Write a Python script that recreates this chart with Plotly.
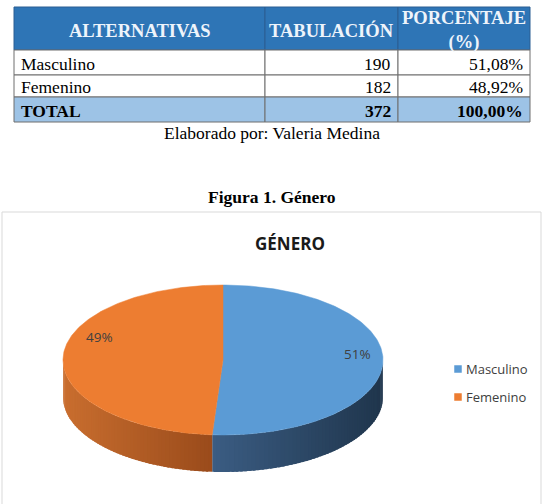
import numpy as np
import plotly.graph_objects as go

W, H = 543, 504

# ---------------- data ----------------
header_labels = ["ALTERNATIVAS", "TABULACIÓN", "PORCENTAJE<br>(%)"]
alternativas = ["Masculino", "Femenino", "TOTAL"]
tabulacion = [190, 182, 372]
porcentaje = ["51,08%", "48,92%", "100,00%"]

categories = ["Masculino", "Femenino"]
counts = [190, 182]
pie_colors = ["#5B9BD5", "#ED7D31"]
side_light = ["#3B5D83", "#C96E2F"]
side_dark = ["#1F354C", "#9A4B1B"]

chart_title = "GÉNERO"
caption_source = "Elaborado por: Valeria Medina"
caption_figure = "Figura 1. Género"

# ---------------- layout constants (px) ----------------
cx, cy, rx, ry, depth = 223, 360, 160, 75, 37
col_edges = [14, 265, 398, 530]
table_top, header_h = 7, 43
row_hs = [25, 22, 25]
SERIF = "Liberation Serif"
SANS = "Open Sans"


def hex2rgb(h):
    h = h.lstrip("#")
    return np.array([int(h[i:i + 2], 16) for i in (0, 2, 4)], dtype=float)


def mix(c1, c2, t):
    a, b = hex2rgb(c1), hex2rgb(c2)
    c = a + (b - a) * t
    return "rgb(%d,%d,%d)" % tuple(np.round(c).astype(int))


def ell(theta_deg, dy=0.0):
    t = np.radians(theta_deg)
    return cx + rx * np.sin(t), cy - ry * np.cos(t) + dy


fig = go.Figure()
shapes = []
annotations = []

# ---------------- table (cells built from the data lists) ----------------
columns = [alternativas, tabulacion, porcentaje]
col_align = ["left", "right", "right"]
n_rows = len(alternativas)
is_total = [a.upper() == "TOTAL" for a in alternativas]

# header
for c, lab in enumerate(header_labels):
    x0, x1 = col_edges[c], col_edges[c + 1]
    y0, y1 = table_top, table_top + header_h
    shapes.append(dict(type="rect", xref="x", yref="y", x0=x0, x1=x1, y0=y0, y1=y1,
                       fillcolor="#2E75B6", line=dict(color="#2A5F93", width=1), layer="above"))
    annotations.append(dict(x=(x0 + x1) / 2, y=(y0 + y1) / 2 + 2, xref="x", yref="y",
                            text="<b>%s</b>" % lab, showarrow=False, align="center",
                            font=dict(family=SERIF, size=18.5, color="#EEF4FB")))

# body
y_cursor = table_top + header_h
for r in range(n_rows):
    y0 = y_cursor
    y1 = y0 + row_hs[r]
    y_cursor = y1
    fill = "#9DC3E6" if is_total[r] else "#FFFFFF"
    for c in range(len(columns)):
        x0, x1 = col_edges[c], col_edges[c + 1]
        shapes.append(dict(type="rect", xref="x", yref="y", x0=x0, x1=x1, y0=y0, y1=y1,
                           fillcolor=fill, line=dict(color="#6F6F6F", width=1), layer="above"))
        val = str(columns[c][r])
        txt = "<b>%s</b>" % val if is_total[r] else val
        if col_align[c] == "left":
            xa, xanc = x0 + 5, "left"
        else:
            xa, xanc = x1 - 5, "right"
        annotations.append(dict(x=xa, y=(y0 + y1) / 2 + 1, xref="x", yref="y", text=txt,
                                showarrow=False, xanchor=xanc, yanchor="middle",
                                font=dict(family=SERIF, size=17.5, color="#000000")))

# ---------------- 3D pie ----------------
fr = np.array(counts, dtype=float) / sum(counts)
bounds = np.concatenate([[0.0], np.cumsum(fr)]) * 360.0

# visible side walls (front half: 90..270 deg) with a shading gradient
for i in range(len(counts)):
    a0, a1 = max(bounds[i], 90.0), min(bounds[i + 1], 270.0)
    if a1 <= a0:
        continue
    xl = min(ell(a0)[0], ell(a1)[0])
    xr = max(ell(a0)[0], ell(a1)[0])
    edges = np.linspace(a0, a1, 61)
    step = edges[1] - edges[0]
    for s0, s1 in zip(edges[:-1], edges[1:]):
        e1 = min(s1 + step * 0.6, a1)
        th = np.linspace(s0, e1, 4)
        xt, yt = ell(th)
        xb, yb = ell(th[::-1], depth)
        xs = np.concatenate([xt, xb, xt[:1]])
        ys = np.concatenate([yt, yb, yt[:1]])
        xm = ell((s0 + s1) / 2)[0]
        t = (xm - xl) / (xr - xl) if xr > xl else 0
        col = mix(side_light[i], side_dark[i], t)
        fig.add_trace(go.Scatter(
            x=xs, y=ys, mode="lines", fill="toself", fillcolor=col,
            line=dict(width=0), hoverinfo="skip", showlegend=False,
        ))

# top faces
for i in range(len(counts)):
    th = np.linspace(bounds[i], bounds[i + 1], 200)
    xt, yt = ell(th)
    xs = np.concatenate([[cx], xt, [cx]])
    ys = np.concatenate([[cy], yt, [cy]])
    fig.add_trace(go.Scatter(
        x=xs, y=ys, mode="lines", fill="toself", fillcolor=pie_colors[i],
        line=dict(color=pie_colors[i], width=0.5), name=categories[i],
        hoverinfo="text", text="%s: %d" % (categories[i], counts[i]),
        showlegend=False,
    ))

# legend markers
leg_x, leg_y0, leg_dy = 458, 369, 28
fig.add_trace(go.Scatter(
    x=[leg_x] * len(categories), y=[leg_y0 + k * leg_dy for k in range(len(categories))],
    mode="markers", marker=dict(symbol="square", size=7.5, color=pie_colors),
    hoverinfo="skip", showlegend=False,
))
for k, c in enumerate(categories):
    annotations.append(dict(
        x=leg_x + 6, y=leg_y0 + k * leg_dy, xref="x", yref="y", text=c,
        showarrow=False, xanchor="left", yanchor="middle",
        font=dict(family=SANS, size=13, color="#404040"),
    ))

# data labels
label_pos = [(357, 354), (99, 337)]
for k in range(len(counts)):
    annotations.append(dict(
        x=label_pos[k][0], y=label_pos[k][1], xref="x", yref="y",
        text="%d%%" % round(fr[k] * 100), showarrow=False,
        font=dict(family=SANS, size=13.5, color="#404040"),
    ))

annotations += [
    dict(x=290, y=243, xref="x", yref="y", text="<b>%s</b>" % chart_title,
         showarrow=False, font=dict(family=SANS, size=17, color="#1A1A1A")),
    dict(x=272, y=133, xref="x", yref="y", text=caption_source,
         showarrow=False, font=dict(family=SERIF, size=17.5, color="#000000")),
    dict(x=272, y=197, xref="x", yref="y", text="<b>%s</b>" % caption_figure,
         showarrow=False, font=dict(family=SERIF, size=17.5, color="#000000")),
]

shapes.append(dict(type="rect", xref="x", yref="y", x0=2, y0=212, x1=541, y1=H + 5,
                   line=dict(color="#D9D9D9", width=1), fillcolor="rgba(0,0,0,0)", layer="below"))

fig.update_layout(
    width=W, height=H,
    margin=dict(l=0, r=0, t=0, b=0),
    paper_bgcolor="white", plot_bgcolor="rgba(0,0,0,0)",
    xaxis=dict(range=[0, W], visible=False, fixedrange=True, domain=[0, 1]),
    yaxis=dict(range=[H, 0], visible=False, fixedrange=True, domain=[0, 1]),
    shapes=shapes,
    annotations=annotations,
    showlegend=False,
)

fig.write_html("out.html")
